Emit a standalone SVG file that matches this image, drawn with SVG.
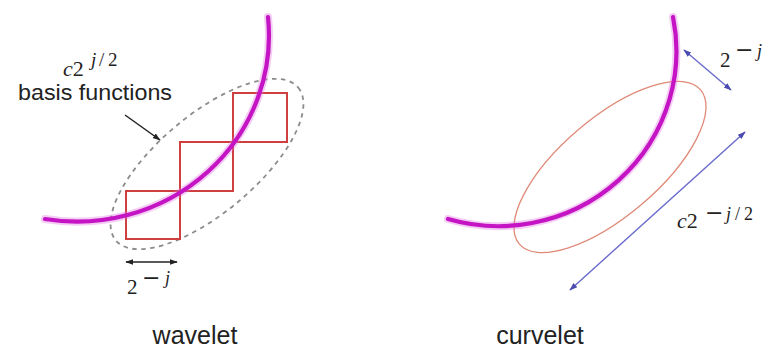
<svg xmlns="http://www.w3.org/2000/svg" width="781" height="350" viewBox="0 0 781 350">
<style>
.glow{fill:none;stroke:#e070e0;stroke-width:8;stroke-opacity:0.35;stroke-linecap:round}
.arc{fill:none;stroke:#c414c4;stroke-width:4.2;stroke-linecap:round}
.sq{fill:none;stroke:#cf3f3f;stroke-width:2}
.dash{fill:none;stroke:#8c8c8c;stroke-width:1.8;stroke-dasharray:4.5 4.5}
.ell{fill:none;stroke:#e08a78;stroke-width:1.3}
.blue{fill:none;stroke:#6a6acc;stroke-width:1.4}
.blk{fill:none;stroke:#222;stroke-width:1.5}
.lbl{font-family:"Liberation Sans",Arial,sans-serif;fill:#222}
.m{font-family:"Liberation Serif","Times New Roman",serif;fill:#222}
.mi{font-style:italic}
.mn{font-family:"DejaVu Serif",serif}
</style>
<defs>
<marker id="ahb" viewBox="0 0 10 10" refX="9" refY="5" markerWidth="8" markerHeight="8" markerUnits="userSpaceOnUse" orient="auto-start-reverse"><path d="M0,1.5 L10,5 L0,8.5 z" fill="#4a4ab0"/></marker>
<marker id="ahk" viewBox="0 0 10 10" refX="9" refY="5" markerWidth="8" markerHeight="8" markerUnits="userSpaceOnUse" orient="auto-start-reverse"><path d="M0,1.5 L10,5 L0,8.5 z" fill="#222"/></marker>
</defs>

<g id="wavelet-panel">
<ellipse class="dash" cx="207" cy="164" rx="119" ry="49" transform="rotate(-40 207 164)"/>
<rect class="sq" x="233" y="93" width="54" height="49"/>
<rect class="sq" x="180" y="142" width="53" height="49"/>
<rect class="sq" x="126" y="191" width="54" height="48"/>
<path class="glow" d="M268,17 A192,186 0 0 1 45,219"/>
<path class="arc" d="M268,17 A192,186 0 0 1 45,219"/>
<text class="m" x="63" y="76" font-size="22"><tspan class="mi">c</tspan>2<tspan class="mi" x="91" y="66" font-size="19">j</tspan><tspan x="99" y="66" font-size="19">/</tspan><tspan x="108" y="66" font-size="19">2</tspan></text>
<text class="lbl" x="18" y="100" font-size="22" textLength="154" lengthAdjust="spacingAndGlyphs">basis functions</text>
<text class="m" x="127" y="294" font-size="21">2<tspan class="mn" x="142" y="285" font-size="22">−</tspan><tspan class="mi" x="165" y="284" font-size="18">j</tspan></text>
<text class="lbl" x="195" y="344" font-size="25" text-anchor="middle">wavelet</text>
</g>

<g id="curvelet-panel">
<ellipse class="ell" cx="610" cy="167" rx="119" ry="49" transform="rotate(-40.4 610 167)"/>
<path class="glow" d="M673,17 A178,175 0 0 1 448,219"/>
<path class="arc" d="M673,17 A178,175 0 0 1 448,219"/>
<text class="m" x="720" y="67" font-size="21">2<tspan class="mn" x="735" y="57" font-size="22">−</tspan><tspan class="mi" x="757" y="57" font-size="18">j</tspan></text>
<text class="m" x="677" y="228" font-size="22"><tspan class="mi">c</tspan>2<tspan class="mn" x="705" y="220" font-size="22">−</tspan><tspan class="mi" x="726" y="220" font-size="18">j</tspan><tspan x="735" y="220" font-size="18">/</tspan><tspan x="744" y="220" font-size="18">2</tspan></text>
<text class="lbl" x="540" y="344" font-size="25" text-anchor="middle">curvelet</text>
</g>

<g id="connectors">
<line class="blk" x1="125" y1="115" x2="160" y2="140" marker-end="url(#ahk)"/>
<line class="blk" x1="126" y1="262" x2="177" y2="262" marker-start="url(#ahk)" marker-end="url(#ahk)"/>
<line class="blue" x1="684" y1="50" x2="731" y2="90" marker-start="url(#ahb)" marker-end="url(#ahb)"/>
<line class="blue" x1="745" y1="132" x2="570" y2="290" marker-start="url(#ahb)" marker-end="url(#ahb)"/>
</g>
</svg>
